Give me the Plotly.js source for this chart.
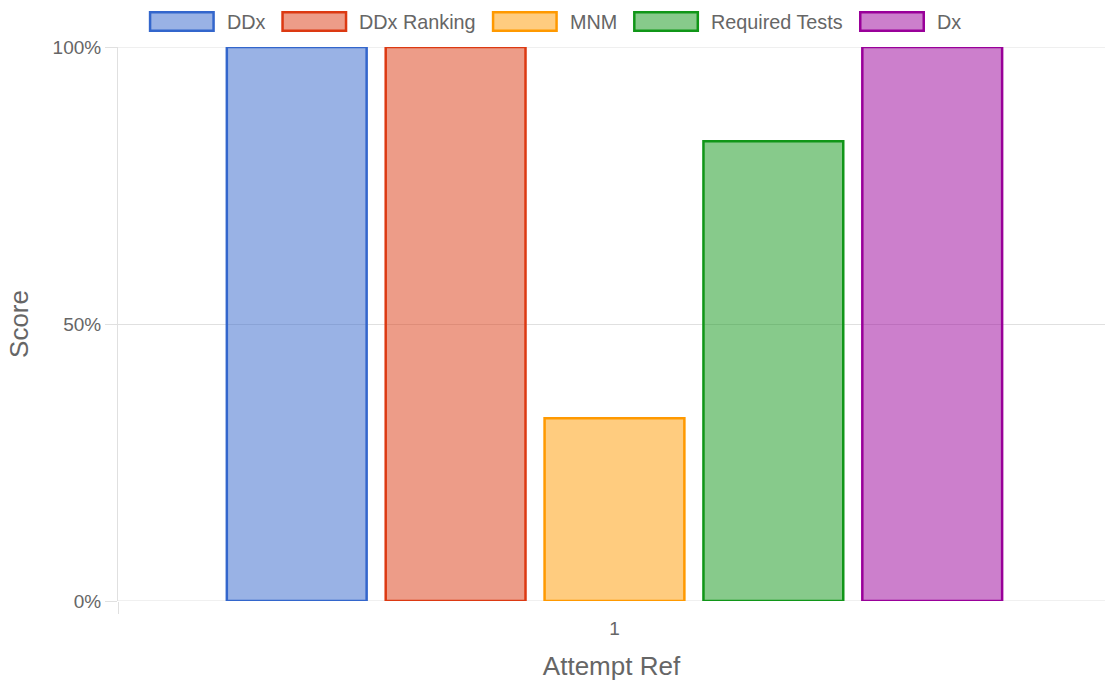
<!DOCTYPE html>
<html>
<head>
<meta charset="utf-8">
<script src="https://cdn.plot.ly/plotly-3.0.1.min.js"></script>
<style>html,body{margin:0;padding:0;background:#fff;}#chart{width:1105px;height:686px;}</style>
</head>
<body>
<div id="chart"></div>
<script>
// ---- data ----
const categories = ['1'];
const seriesNames = ['DDx', 'DDx Ranking', 'MNM', 'Required Tests', 'Dx'];
const ddx = [1.0];
const ddxRanking = [1.0];
const mnm = [0.33];
const requiredTests = [0.83];
const dx = [1.0];
const yTickValues = [0, 0.5, 1];
const yTickLabels = ['0%', '50%', '100%'];
const xTitle = 'Attempt Ref';
const yTitle = 'Score';

// ---- styles ----
const borderColors = ['#3366cc', '#dc3912', '#ff9900', '#109618', '#990099'];
const fillColors = ['rgba(51,102,204,0.5)', 'rgba(220,57,18,0.5)', 'rgba(255,153,0,0.5)', 'rgba(16,150,24,0.5)', 'rgba(153,0,153,0.5)'];
const seriesValues = [ddx, ddxRanking, mnm, requiredTests, dx];
const FONT = 'Liberation Sans, Arial, Helvetica, sans-serif';
const TXT = '#666666';
const GRID = '#e0e0e0';

const W = 1105, H = 686;
const M = {l: 118, r: 0, t: 47, b: 85};
const PW = W - M.l - M.r, PH = H - M.t - M.b;

const traces = seriesNames.map((name, i) => ({
  type: 'bar',
  name: name,
  x: categories,
  y: seriesValues[i],
  marker: {color: fillColors[i], line: {color: borderColors[i], width: 2.5}},
  hoverinfo: 'name+y'
}));

// ---- custom legend (wide boxes like the original) ----
const LEG_FS = 19.8;
const ctx = document.createElement('canvas').getContext('2d');
ctx.font = LEG_FS + "px 'Liberation Sans'";
const boxW = 66, boxH = 21, gapText = 10, gapItem = 18;
const textW = seriesNames.map(n => ctx.measureText(n).width);
let total = 0;
textW.forEach((w, i) => { total += boxW + gapText + w + (i < textW.length - 1 ? gapItem : 0); });
let cx = 554 - total / 2;
const legendY = 21.5;
const px2x = p => (p - M.l) / PW;
const px2y = p => (H - M.b - p) / PH;
const shapes = [];
const annotations = [];
// gridlines at the two range edges (Plotly skips them)
yTickValues.filter(v => v === 0 || v === 1).forEach(v => {
  shapes.push({type: 'line', xref: 'paper', yref: 'y', x0: 0, x1: 1, y0: v, y1: v,
    line: {color: GRID, width: 1}, layer: 'below'});
});
seriesNames.forEach((n, i) => {
  shapes.push({
    type: 'rect', xref: 'paper', yref: 'paper',
    x0: px2x(cx + 1.25), x1: px2x(cx + boxW - 1.25),
    y0: px2y(legendY + boxH / 2 - 1.25), y1: px2y(legendY - boxH / 2 + 1.25),
    fillcolor: fillColors[i], line: {color: borderColors[i], width: 2.5}
  });
  annotations.push({
    xref: 'paper', yref: 'paper', x: px2x(cx + boxW + gapText), y: px2y(legendY),
    xanchor: 'left', yanchor: 'middle', showarrow: false, text: n,
    font: {family: FONT, size: LEG_FS, color: TXT}
  });
  cx += boxW + gapText + textW[i] + gapItem;
});

const layout = {
  width: W, height: H,
  margin: M,
  paper_bgcolor: '#ffffff', plot_bgcolor: '#ffffff',
  showlegend: false,
  barmode: 'group', bargap: 0.2, bargroupgap: 0.12,
  font: {family: FONT, color: TXT, size: 19},
  xaxis: {
    type: 'category', range: [-0.5, 0.494],
    tickson: 'boundaries', ticks: 'outside', ticklen: 12, tickcolor: GRID, tickwidth: 1,
    ticklabelstandoff: 14,
    showgrid: true, gridcolor: GRID, zeroline: false, showline: false,
    tickfont: {family: FONT, size: 19, color: TXT},
    title: {text: xTitle, font: {family: FONT, size: 26, color: TXT}, standoff: 18},
    automargin: false
  },
  yaxis: {
    range: [0, 1], tickvals: yTickValues, ticktext: yTickLabels,
    ticks: 'outside', ticklen: 12, tickcolor: GRID, tickwidth: 1,
    showgrid: true, gridcolor: GRID, zeroline: false, showline: true, linecolor: GRID, linewidth: 1,
    tickfont: {family: FONT, size: 19, color: TXT},
    title: {text: yTitle, font: {family: FONT, size: 26, color: TXT}, standoff: 16},
    automargin: false
  },
  shapes: shapes,
  annotations: annotations
};

Plotly.newPlot('chart', traces, layout, {displayModeBar: false, staticPlot: true});
</script>
</body>
</html>
